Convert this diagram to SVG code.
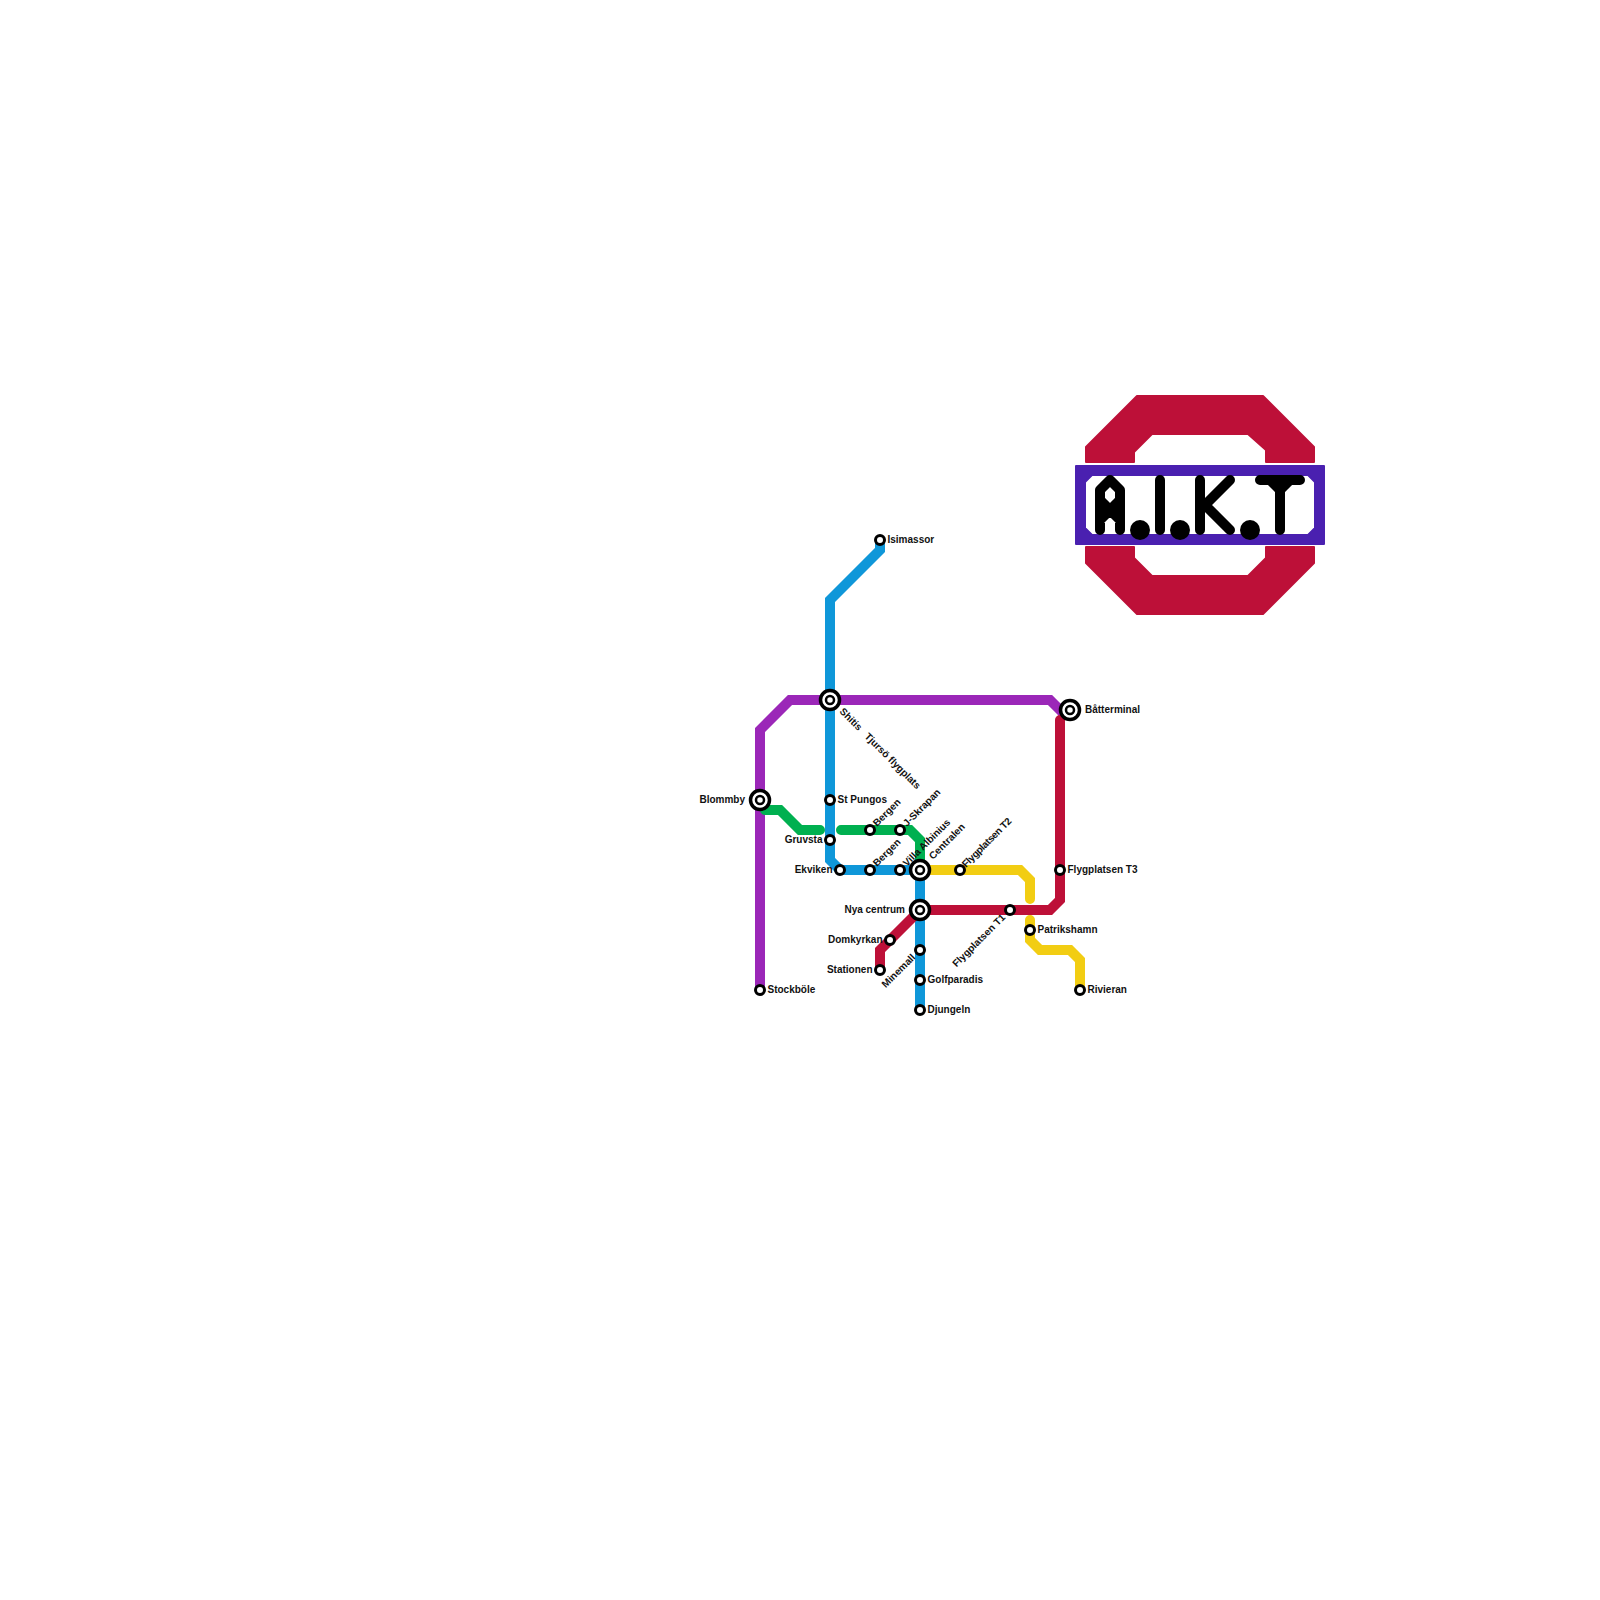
<svg xmlns="http://www.w3.org/2000/svg" width="1600" height="1600" viewBox="0 0 1600 1600">
<style>
.l{fill:none;stroke-width:10;stroke-linejoin:miter}
.r{stroke-linecap:round}
.pu{stroke:#9b27b8}.bl{stroke:#0f97d9}.gr{stroke:#00b050}.ye{stroke:#f2cd13}.re{stroke:#bd1038}
.s{fill:#fff;stroke:#000;stroke-width:3}
.i{fill:#fff;stroke:#000;stroke-width:3.5}
.c{fill:#fff;stroke:#000;stroke-width:2.5}
.k{fill:none;stroke:#000;stroke-width:10;stroke-linecap:round;stroke-linejoin:round}
text{font-family:"Liberation Sans",Arial,sans-serif;font-size:10px;font-weight:bold;fill:#111}
.e{text-anchor:end}
</style>
<rect width="1600" height="1600" fill="#fff"/>
<g id="logo">
<path fill="#bd1038" stroke="#bd1038" stroke-width="2" stroke-linejoin="round" d="M1086 447L1137 396H1263L1314 447V462H1266V450L1248 434H1152L1134 452V462H1086Z"/>
<path fill="#bd1038" stroke="#bd1038" stroke-width="2" stroke-linejoin="round" d="M1086 547H1134V558L1152 576H1248L1266 558V547H1314V563L1263 614H1137L1086 563Z"/>
<path fill="#4a20b0" fill-rule="evenodd" stroke="#4a20b0" stroke-width="2" stroke-linejoin="round" d="M1076 466H1324V544H1076ZM1092 475L1085 482V528L1092 535H1308L1315 528V482L1308 475Z"/>
<path class="k" d="M1100 530V490L1110 480L1120 490V530M1100 500L1110 510L1120 500M1100 520L1110 510L1120 520"/>
<path class="k" d="M1160 480V530"/>
<path class="k" d="M1200 480V530M1230 480L1200 510M1200 500L1230 530"/>
<path class="k" d="M1260 480H1300M1280 480V530M1270 480L1280 490L1290 480"/>
<circle cx="1140" cy="530" r="10"/><circle cx="1180" cy="530" r="10"/><circle cx="1250" cy="530" r="10"/>
</g>
<g id="connectors">
<path class="l pu" d="M760 990V730L790 700H1050L1065 715"/>
<path class="l bl" d="M880 540V550L830 600V860L840 870H920V1010"/>
<path class="l gr r" d="M765 810H780L800 830H820"/>
<path class="l gr r" d="M841 830H910L920 840V870"/>
<path class="l ye r" d="M920 870H1020L1030 880V899"/>
<path class="l ye r" d="M1030 920V940L1040 950H1070L1080 960V990"/>
<path class="l re r" d="M1060 720V900L1050 910H920L880 950V970"/>
</g>
<g id="n-isimassor"><circle class="s" cx="880" cy="540" r="4.5"/><text x="887.5" y="542.5">Isimassor</text></g>
<g id="n-shitis"><circle class="i" cx="830" cy="700" r="9.5"/><circle class="c" cx="830" cy="700" r="4"/><text transform="translate(839 712) rotate(45)">Shitis</text></g>
<g id="n-tjurso"><text transform="translate(864 737) rotate(45)">Tjursö flygplats</text></g>
<g id="n-blommby"><circle class="i" cx="760" cy="800" r="9.5"/><circle class="c" cx="760" cy="800" r="4"/><text class="e" x="745" y="802.5">Blommby</text></g>
<g id="n-stpungos"><circle class="s" cx="830" cy="800" r="4.5"/><text x="837.5" y="802.5">St Pungos</text></g>
<g id="n-gruvsta"><circle class="s" cx="830" cy="840" r="4.5"/><text class="e" x="822.5" y="842.5">Gruvsta</text></g>
<g id="n-ekviken"><circle class="s" cx="840" cy="870" r="4.5"/><text class="e" x="832.5" y="872.5">Ekviken</text></g>
<g id="n-bergen1"><circle class="s" cx="870" cy="830" r="4.5"/><text transform="translate(877 827) rotate(-45)">Bergen</text></g>
<g id="n-bergen2"><circle class="s" cx="870" cy="870" r="4.5"/><text transform="translate(877 867) rotate(-45)">Bergen</text></g>
<g id="n-jskrapan"><circle class="s" cx="900" cy="830" r="4.5"/><text transform="translate(907 827) rotate(-45)">J-Skrapan</text></g>
<g id="n-villa"><circle class="s" cx="900" cy="870" r="4.5"/><text transform="translate(907 867) rotate(-45)">Villa Albinius</text></g>
<g id="n-centralen"><circle class="i" cx="920" cy="870" r="9.5"/><circle class="c" cx="920" cy="870" r="4"/><text transform="translate(933 860) rotate(-45)">Centralen</text></g>
<g id="n-t2"><circle class="s" cx="960" cy="870" r="4.5"/><text transform="translate(966 868) rotate(-45)" style="letter-spacing:-.35px">Flygplatsen T2</text></g>
<g id="n-nya"><circle class="i" cx="920" cy="910" r="9.5"/><circle class="c" cx="920" cy="910" r="4"/><text class="e" x="905" y="912.5">Nya centrum</text></g>
<g id="n-t1"><circle class="s" cx="1010" cy="910" r="4.5"/><text class="e" transform="translate(1006 918) rotate(-45)">Flygplatsen T1</text></g>
<g id="n-patrikshamn"><circle class="s" cx="1030" cy="930" r="4.5"/><text x="1037.5" y="932.5">Patrikshamn</text></g>
<g id="n-domkyrkan"><circle class="s" cx="890" cy="940" r="4.5"/><text class="e" x="882.5" y="942.5">Domkyrkan</text></g>
<g id="n-stationen"><circle class="s" cx="880" cy="970" r="4.5"/><text class="e" x="872.5" y="972.5">Stationen</text></g>
<g id="n-minemall"><circle class="s" cx="920" cy="950" r="4.5"/><text class="e" transform="translate(916 958) rotate(-45)">Minemall</text></g>
<g id="n-golf"><circle class="s" cx="920" cy="980" r="4.5"/><text x="927.5" y="982.5">Golfparadis</text></g>
<g id="n-djungeln"><circle class="s" cx="920" cy="1010" r="4.5"/><text x="927.5" y="1012.5">Djungeln</text></g>
<g id="n-stockbole"><circle class="s" cx="760" cy="990" r="4.5"/><text x="767.5" y="992.5">Stockböle</text></g>
<g id="n-t3"><circle class="s" cx="1060" cy="870" r="4.5"/><text x="1067.5" y="872.5">Flygplatsen T3</text></g>
<g id="n-rivieran"><circle class="s" cx="1080" cy="990" r="4.5"/><text x="1087.5" y="992.5">Rivieran</text></g>
<g id="n-batterminal"><circle class="i" cx="1070" cy="710" r="9.5"/><circle class="c" cx="1070" cy="710" r="4"/><text x="1085" y="712.5">Båtterminal</text></g>
</svg>
